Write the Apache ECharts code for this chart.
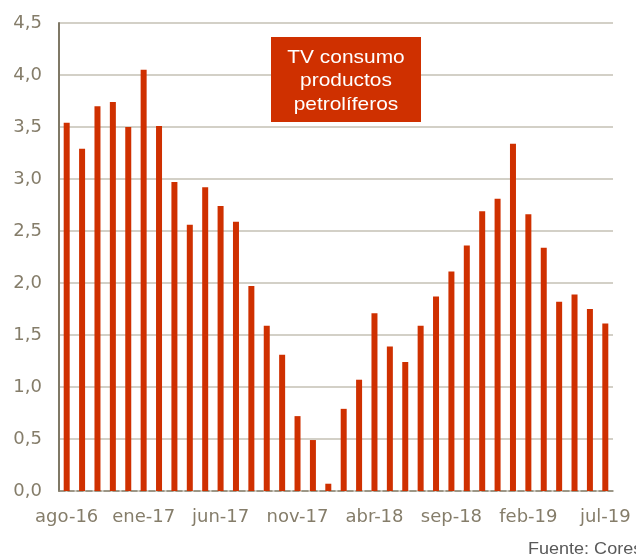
<!DOCTYPE html>
<html>
<head>
<meta charset="utf-8">
<script src="https://cdn.jsdelivr.net/npm/echarts@6/dist/echarts.min.js"></script>
<style>
    html, body { margin: 0; padding: 0; background: #fff; }
    #chart { width: 636px; height: 558px; }
</style>
</head>
<body>
<div id="chart"></div>
<script>
var meses = [
    'ago-16', 'sep-16', 'oct-16', 'nov-16', 'dic-16',
    'ene-17', 'feb-17', 'mar-17', 'abr-17', 'may-17', 'jun-17', 'jul-17',
    'ago-17', 'sep-17', 'oct-17', 'nov-17', 'dic-17',
    'ene-18', 'feb-18', 'mar-18', 'abr-18', 'may-18', 'jun-18', 'jul-18',
    'ago-18', 'sep-18', 'oct-18', 'nov-18', 'dic-18',
    'ene-19', 'feb-19', 'mar-19', 'abr-19', 'may-19', 'jun-19', 'jul-19'
];
var tvConsumo = [
    3.54, 3.29, 3.70, 3.74, 3.50,
    4.05, 3.51, 2.97, 2.56, 2.92, 2.74, 2.59,
    1.97, 1.59, 1.31, 0.72, 0.49,
    0.07, 0.79, 1.07, 1.71, 1.39, 1.24, 1.59,
    1.87, 2.11, 2.36, 2.69, 2.81,
    3.34, 2.66, 2.34, 1.82, 1.89, 1.75, 1.61
];
var rotulo = 'TV consumo\nproductos\npetrolíferos';
var fuente = 'Fuente: Cores';

var chart = echarts.init(document.getElementById('chart'));

var option = {
    animation: false,
    textStyle: { fontFamily: 'DejaVu Sans, sans-serif' },
    grid: { left: 59, right: 23, top: 23, bottom: 67 },
    graphic: [{
        type: 'rect',
        shape: { x: 271, y: 37, width: 150, height: 85 },
        style: { fill: '#cf3000' },
        z: 10
    }, {
        // cuadro con el nombre de la serie
        type: 'text',
        x: 346,
        y: 81,
        scaleX: 1.1,
        style: {
            text: rotulo,
            fill: '#ffffff',
            fontSize: 19,
            lineHeight: 23.5,
            fontFamily: 'Liberation Sans, Arial, sans-serif',
            align: 'center',
            verticalAlign: 'middle'
        },
        z: 11
    }, {
        type: 'text',
        x: 528,
        y: 549,
        scaleX: 1.06,
        style: {
            text: fuente,
            fill: '#595959',
            fontSize: 17,
            fontFamily: 'Liberation Sans, Arial, sans-serif',
            align: 'left',
            verticalAlign: 'middle'
        }
    }],
    xAxis: {
        type: 'category',
        data: meses,
        axisLine: { lineStyle: { color: '#8a8473', type: 'dashed', width: 1.5 } },
        axisTick: { show: false },
        axisLabel: {
            interval: 4,
            color: '#857d6a',
            fontSize: 18,
            margin: 17
        }
    },
    yAxis: {
        type: 'value',
        min: 0,
        max: 4.5,
        interval: 0.5,
        axisLine: { show: true, lineStyle: { color: '#7f7866', width: 2 } },
        axisTick: { show: false },
        axisLabel: {
            color: '#857d6a',
            fontSize: 18,
            margin: 17,
            formatter: function (v) { return v.toFixed(1).replace('.', ','); }
        },
        splitLine: { lineStyle: { color: '#c4c0b4', width: 1.5 } }
    },
    series: [{
        name: 'TV consumo productos petrolíferos',
        type: 'bar',
        data: tvConsumo,
        barWidth: 6,
        itemStyle: { color: '#cf3000' }
    }]
};

chart.setOption(option);
</script>
</body>
</html>
